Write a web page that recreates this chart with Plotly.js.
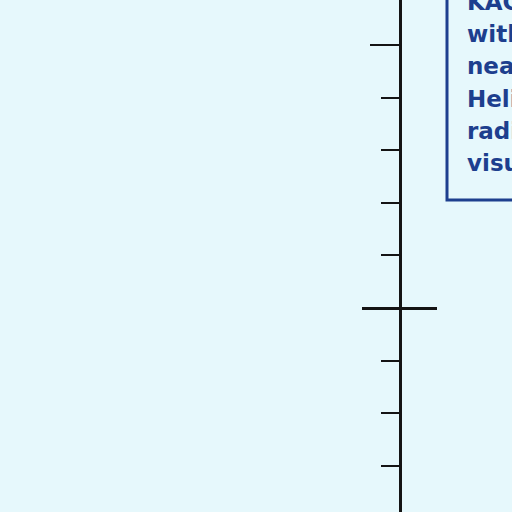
<!DOCTYPE html>
<html>
<head>
<meta charset="utf-8">
<script src="https://cdn.plot.ly/plotly-3.0.1.min.js"></script>
<style>
  html, body { margin: 0; padding: 0; background: #e6f8fc; }
  #chart { width: 512px; height: 512px; }
</style>
</head>
<body>
<div id="chart"></div>
<script>
/***** fragment: vertical scale with note box *****/
var yRange = [-3.88, 5.86];
var minorTicks = [-3, -2, -1, 1, 2, 3, 4];
var longTicks = [5];
var crossTicks = [0];
var noteLines = ['KAGUYA observed', 'with the UPI-TVIS', 'near the Moon the', 'Helium ion', 'radiation and', 'visualized it'];
var noteLineY = [0.996, 0.934, 0.871, 0.807, 0.744, 0.682];

var ink = '#141414';
var blue = '#1d3f8e';
var axisX = 400 / 512;

var baseAxis = {
  range: yRange,
  anchor: 'free',
  position: axisX,
  showgrid: false,
  zeroline: false,
  showticklabels: false,
  fixedrange: true
};

var layout = {
  width: 512,
  height: 512,
  margin: {l: 0, r: 0, t: 0, b: 0},
  paper_bgcolor: '#e6f8fc',
  plot_bgcolor: '#e6f8fc',
  showlegend: false,
  xaxis: {range: [0, 1], visible: false, fixedrange: true},
  yaxis: Object.assign({}, baseAxis, {
    showline: true, linecolor: ink, linewidth: 3,
    ticks: 'outside', tickvals: minorTicks, ticklen: 18, tickwidth: 2, tickcolor: ink
  }),
  yaxis2: Object.assign({}, baseAxis, {
    overlaying: 'y', showline: false,
    ticks: 'outside', tickvals: longTicks, ticklen: 30, tickwidth: 2, tickcolor: ink
  }),
  yaxis3: Object.assign({}, baseAxis, {
    overlaying: 'y', showline: false,
    ticks: 'outside', tickvals: crossTicks, ticklen: 38, tickwidth: 3, tickcolor: ink
  }),
  yaxis4: Object.assign({}, baseAxis, {
    overlaying: 'y', showline: false,
    ticks: 'inside', tickvals: crossTicks, ticklen: 36, tickwidth: 3, tickcolor: ink
  }),
  shapes: [{
    type: 'rect', xref: 'paper', yref: 'paper',
    x0: 447 / 512, x1: 1.2, y0: 312 / 512, y1: 1.2,
    line: {color: blue, width: 3}
  }],
  annotations: noteLines.map(function (t, i) {
    return {
      text: t, xref: 'paper', yref: 'paper',
      x: 465 / 512, y: noteLineY[i],
      xanchor: 'left', yanchor: 'middle', showarrow: false,
      font: {family: 'DejaVu Sans, sans-serif', size: 23, weight: 'bold', color: blue}
    };
  })
};

var data = ['y', 'y2', 'y3', 'y4'].map(function (ax) {
  return {x: [], y: [], type: 'scatter', mode: 'lines', yaxis: ax, hoverinfo: 'skip'};
});

Plotly.newPlot('chart', data, layout, {staticPlot: true, displayModeBar: false});
</script>
</body>
</html>
